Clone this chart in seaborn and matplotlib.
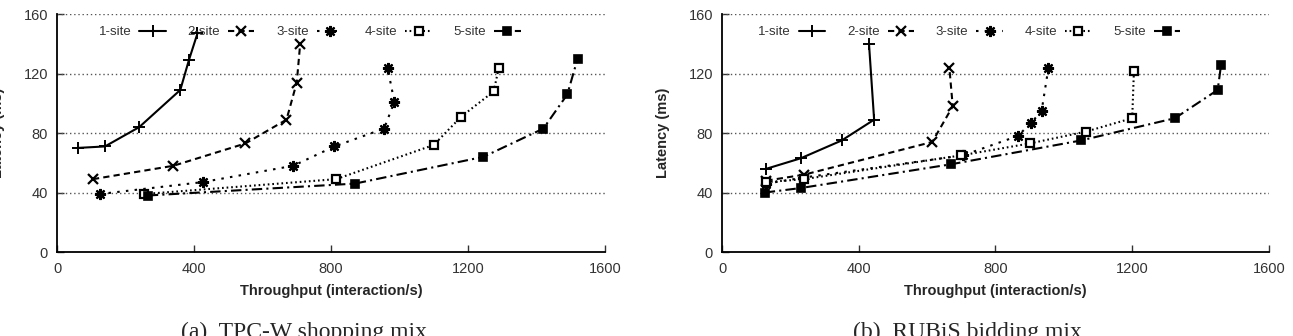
import numpy as np
import pandas as pd
import matplotlib
matplotlib.use('agg')
import matplotlib.pyplot as plt
import seaborn as sns
from matplotlib.lines import Line2D

# (a) TPC-W shopping mix
tpcw_1site_x = [60, 140, 240, 360, 385, 410]
tpcw_1site_y = [70, 71, 84, 109, 129, 147]
tpcw_2site_x = [105, 340, 550, 670, 700, 710]
tpcw_2site_y = [49, 58, 73, 89, 114, 140]
tpcw_3site_x = [125, 425, 690, 810, 955, 985, 965]
tpcw_3site_y = [39, 47, 58, 71, 83, 101, 124]
tpcw_4site_x = [255, 815, 1100, 1180, 1275, 1290]
tpcw_4site_y = [39, 49, 72, 91, 108, 124]
tpcw_5site_x = [265, 870, 1245, 1420, 1490, 1520]
tpcw_5site_y = [38, 46, 64, 83, 106, 130]

# (b) RUBiS bidding mix
rubis_1site_x = [130, 230, 350, 445, 430]
rubis_1site_y = [56, 63, 75, 89, 140]
rubis_2site_x = [130, 240, 615, 675, 665]
rubis_2site_y = [48, 52, 74, 98, 124]
rubis_3site_x = [130, 237, 705, 865, 905, 935, 955]
rubis_3site_y = [46, 50, 65, 78, 87, 95, 124]
rubis_4site_x = [130, 240, 700, 900, 1065, 1200, 1205]
rubis_4site_y = [47, 49, 65, 73, 81, 90, 122]
rubis_5site_x = [125, 230, 670, 1050, 1325, 1450, 1460]
rubis_5site_y = [40, 43, 59, 75, 90, 109, 126]

labels = ["1-site", "2-site", "3-site", "4-site", "5-site"]
x_ticks = [0, 400, 800, 1200, 1600]
y_ticks = [0, 40, 80, 120, 160]

# line style / marker for each series (gnuplot look)
styles = [
    dict(linestyle="-", marker="+", mfc="black", ms=8, mew=1.4),
    dict(linestyle=(0, (3, 2)), marker="x", mfc="black", ms=6.5, mew=1.6),
    dict(linestyle=(0, (1.2, 3)), marker=(8, 2, 0), mfc="black", ms=8, mew=1.6),
    dict(linestyle=(0, (0.8, 1.4)), marker="s", mfc="white", ms=6, mew=1.6),
    dict(linestyle=(0, (5, 2, 1, 2)), marker="s", mfc="black", ms=6, mew=1.2),
]

sns.set_style("white")
plt.rcParams["font.family"] = ["Liberation Sans", "DejaVu Sans"]

fig = plt.figure(figsize=(12.93, 3.36), dpi=100)
ax_a = fig.add_axes([0.0441, 0.25, 0.4238, 0.708])
ax_b = fig.add_axes([0.5584, 0.25, 0.4230, 0.708])

panels = [
    (ax_a, [(tpcw_1site_x, tpcw_1site_y), (tpcw_2site_x, tpcw_2site_y), (tpcw_3site_x, tpcw_3site_y),
            (tpcw_4site_x, tpcw_4site_y), (tpcw_5site_x, tpcw_5site_y)],
     "(a)  TPC-W shopping mix", 0.235, 0.461),
    (ax_b, [(rubis_1site_x, rubis_1site_y), (rubis_2site_x, rubis_2site_y), (rubis_3site_x, rubis_3site_y),
            (rubis_4site_x, rubis_4site_y), (rubis_5site_x, rubis_5site_y)],
     "(b)  RUBiS bidding mix", 0.748, 0.452),
]

for ax, series, caption, cap_x, leg_x in panels:
    for i, (xs, ys) in enumerate(series):
        df = pd.DataFrame({"x": xs, "y": ys})
        sns.lineplot(data=df, x="x", y="y", ax=ax, sort=False, estimator=None,
                     color="black", lw=1.5, mec="black", zorder=3 + i, **styles[i])

    ax.set_xlim(0, 1600)
    ax.set_ylim(0, 160)
    ax.set_xticks(x_ticks)
    ax.set_yticks(y_ticks)
    ax.tick_params(direction="in", length=5, width=1, labelsize=10.5, colors="#333333",
                   bottom=True, left=True)
    ax.tick_params(axis="x", pad=7)
    ax.tick_params(axis="y", pad=6.5)
    for y in y_ticks[1:]:
        ax.axhline(y, color="#555555", lw=1, ls=(0, (1, 2)), zorder=1)
    for side in ["top", "right"]:
        ax.spines[side].set_visible(False)
    for side in ["left", "bottom"]:
        ax.spines[side].set_color("black")
        ax.spines[side].set_linewidth(1.3)
    ax.set_xlabel("Throughput (interaction/s)", fontsize=10.5, fontweight="bold", labelpad=6)
    ax.set_ylabel("Latency (ms)", fontsize=10.5, fontweight="bold", labelpad=13)

    handles = [Line2D([], [], color="black", lw=1.5, mec="black", **styles[i]) for i in range(5)]
    ax.legend(handles, labels, loc="upper center", bbox_to_anchor=(leg_x, 1.0), ncol=5,
              frameon=False, markerfirst=False, fontsize=9.5, handlelength=2.0,
              columnspacing=1.65, handletextpad=0.6, labelcolor="#333333")

    fig.text(cap_x, -0.005, caption, ha="center", va="baseline", fontsize=17,
             family=["Liberation Serif", "DejaVu Serif"])

fig.savefig("out.png", dpi=100)
